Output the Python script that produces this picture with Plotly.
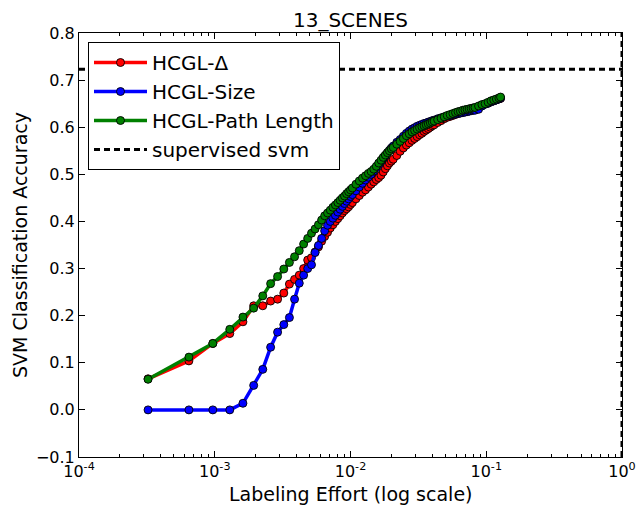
import plotly.graph_objects as go

# ---- data ----
TOTAL_IMAGES = 3100
labeled_counts = [1, 2, 3, 4, 5, 6, 7, 8, 9, 10, 11, 12, 13, 14, 15, 16, 17, 18, 19, 20,
                  21, 22, 23, 24, 25, 26, 27, 28, 29, 30, 31,
                  32, 34, 36, 38, 40, 42, 44, 46, 48, 50, 52, 54, 56, 58, 60, 62,
                  64, 68, 72, 76, 80, 84, 88, 92, 96, 100, 104, 108, 112, 116, 120, 124,
                  128, 136, 144, 152, 160, 168, 176, 184, 192, 200, 208, 216, 224, 232, 240, 248,
                  256, 272, 288, 304, 320, 336, 352, 368, 384, 395]

acc_delta = [0.066, 0.104, 0.141, 0.162, 0.187, 0.221, 0.221, 0.231, 0.235, 0.248,
             0.267, 0.277, 0.286, 0.300, 0.318, 0.323, 0.335, 0.346, 0.358, 0.368,
             0.377, 0.386, 0.393, 0.400, 0.406, 0.412, 0.418, 0.423, 0.427, 0.431, 0.436,
             0.440, 0.448, 0.455, 0.462, 0.467, 0.473, 0.479, 0.484, 0.489, 0.493, 0.498,
             0.505, 0.512, 0.518, 0.524, 0.528,
             0.532, 0.540, 0.549, 0.556, 0.562, 0.567, 0.572, 0.576, 0.580, 0.584, 0.587,
             0.591, 0.594, 0.597, 0.600, 0.603,
             0.605, 0.610, 0.614, 0.618, 0.621, 0.623, 0.625, 0.627, 0.629, 0.631, 0.632,
             0.634, 0.635, 0.636, 0.637, 0.639,
             0.640, 0.643, 0.646, 0.649, 0.651, 0.654, 0.656, 0.658, 0.660, 0.661]

acc_size = [0.000, 0.000, 0.000, 0.000, 0.014, 0.052, 0.086, 0.133, 0.165, 0.181,
            0.196, 0.235, 0.269, 0.286, 0.300, 0.308, 0.334, 0.349, 0.364, 0.380,
            0.392, 0.400, 0.407, 0.413, 0.420, 0.426, 0.432, 0.438, 0.443, 0.448, 0.453,
            0.457, 0.465, 0.473, 0.481, 0.488, 0.494, 0.500, 0.507, 0.514, 0.521, 0.528,
            0.534, 0.540, 0.546, 0.551, 0.556,
            0.560, 0.568, 0.574, 0.581, 0.587, 0.592, 0.596, 0.599, 0.602, 0.604, 0.606,
            0.608, 0.609, 0.611, 0.612, 0.614,
            0.615, 0.618, 0.620, 0.622, 0.624, 0.625, 0.627, 0.628, 0.629, 0.630, 0.631,
            0.632, 0.633, 0.634, 0.635, 0.636,
            0.636, 0.638, 0.645, 0.649, 0.651, 0.654, 0.656, 0.658, 0.660, 0.662]

acc_path = [0.065, 0.112, 0.141, 0.171, 0.197, 0.216, 0.242, 0.268, 0.283, 0.299,
            0.313, 0.325, 0.338, 0.352, 0.364, 0.375, 0.384, 0.393, 0.403, 0.412,
            0.418, 0.424, 0.430, 0.435, 0.440, 0.445, 0.450, 0.454, 0.459, 0.463, 0.467,
            0.471, 0.479, 0.486, 0.492, 0.497, 0.502, 0.506, 0.511, 0.517, 0.524, 0.530,
            0.536, 0.541, 0.546, 0.550, 0.554,
            0.557, 0.564, 0.570, 0.576, 0.582, 0.586, 0.590, 0.593, 0.596, 0.599, 0.601,
            0.603, 0.605, 0.607, 0.609, 0.611,
            0.613, 0.616, 0.619, 0.622, 0.625, 0.627, 0.629, 0.631, 0.633, 0.634, 0.636,
            0.637, 0.638, 0.639, 0.640, 0.641,
            0.642, 0.645, 0.648, 0.650, 0.653, 0.656, 0.658, 0.660, 0.662, 0.664]

supervised_acc = 0.723
effort_span = [1e-4, 1.0]
full_effort = 1.0
y_span = [-0.1, 0.8]

x_tick_vals = [1e-4, 1e-3, 1e-2, 1e-1, 1.0]
x_tick_text = ["10<sup>-4</sup>", "10<sup>-3</sup>", "10<sup>-2</sup>", "10<sup>-1</sup>", "10<sup>0</sup>"]
x_minor_vals = [m * 10.0 ** e for e in (-4, -3, -2, -1) for m in range(2, 10)]

effort = [c / TOTAL_IMAGES for c in labeled_counts]

FONT = "DejaVu Sans"
W, H = 638, 505
ML, MR, MT, MB = 79, 16, 33, 48
plot_w = W - ML - MR
plot_h = H - MT - MB

fig = go.Figure()

series = [
    ("HCGL-Δ", acc_delta, "#ff0000"),
    ("HCGL-Size", acc_size, "#0000ff"),
    ("HCGL-Path Length", acc_path, "#008000"),
]
for name, ys, col in series:
    fig.add_trace(go.Scatter(
        x=effort, y=ys, name=name, mode="lines+markers",
        line=dict(color=col, width=3.5),
        marker=dict(color=col, size=8, line=dict(color="black", width=0.9)),
    ))

fig.add_trace(go.Scatter(
    x=effort_span, y=[supervised_acc, supervised_acc], name="supervised svm",
    mode="lines", line=dict(color="black", width=3, dash="6px,4px"),
))
fig.add_trace(go.Scatter(
    x=[full_effort, full_effort], y=y_span, showlegend=False, mode="lines",
    line=dict(color="black", width=3, dash="6px,4px"), cliponaxis=False,
))

fig.update_layout(
    width=W, height=H,
    margin=dict(l=ML, r=MR, t=MT, b=MB, autoexpand=False),
    paper_bgcolor="white", plot_bgcolor="white",
    font=dict(family=FONT, size=16, color="black"),
    title=dict(text="13_SCENES", x=0.5, xref="paper", xanchor="center",
               y=1 - 20 / H, yref="container", yanchor="middle",
               font=dict(family=FONT, size=20, color="black")),
    showlegend=True,
    legend=dict(x=(88 - ML) / plot_w, y=1 - (42 - MT) / plot_h, xanchor="left", yanchor="top",
                bgcolor="white", bordercolor="black", borderwidth=1, itemwidth=53,
                font=dict(family=FONT, size=20, color="black")),
    xaxis=dict(type="log", range=[-4, 0], showgrid=False, zeroline=False,
               showline=True, linecolor="black", linewidth=1, mirror="allticks",
               ticks="inside", ticklen=6, tickwidth=1, tickcolor="black",
               tickvals=x_tick_vals, ticktext=x_tick_text,
               tickfont=dict(family=FONT, size=16),
               minor=dict(tickvals=x_minor_vals, ticks="inside", ticklen=3,
                          tickcolor="black", tickwidth=1)),
    yaxis=dict(range=y_span, showgrid=False, zeroline=False,
               showline=True, linecolor="black", linewidth=1, mirror="allticks",
               ticks="inside", ticklen=6, tickwidth=1, tickcolor="black",
               tick0=0, dtick=0.1, tickformat=".1f",
               tickfont=dict(family=FONT, size=16)),
    annotations=[
        dict(text="Labeling Effort (log scale)", x=0.5, xref="paper",
             y=-(494 - (H - MB)) / plot_h, yref="paper",
             xanchor="center", yanchor="middle", showarrow=False,
             font=dict(family=FONT, size=19)),
        dict(text="SVM Classification Accuracy", x=-(ML - 20) / plot_w, xref="paper",
             y=0.5, yref="paper",
             xanchor="center", yanchor="middle", showarrow=False, textangle=-90,
             font=dict(family=FONT, size=19)),
    ],
)

fig.write_html("out.html", config={"displayModeBar": False},
               post_script="document.body.style.margin='0';")
